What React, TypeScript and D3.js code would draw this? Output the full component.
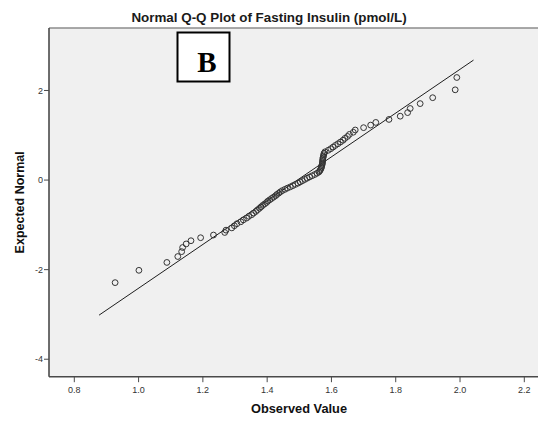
import React from "react";
import * as d3 from "d3";

// Observed fasting insulin values (sorted) and their expected normal scores
const observed: number[] = [
  0.927, 1.001, 1.088, 1.122, 1.134, 1.137, 1.148, 1.163, 1.193, 1.233,
  1.268, 1.272, 1.29, 1.298, 1.306, 1.318, 1.326, 1.336, 1.343, 1.352,
  1.358, 1.365, 1.37, 1.376, 1.381, 1.386, 1.392, 1.398, 1.402, 1.408,
  1.414, 1.42, 1.426, 1.43, 1.436, 1.441, 1.447, 1.455, 1.463, 1.472,
  1.48, 1.488, 1.496, 1.503, 1.51, 1.517, 1.524, 1.532, 1.54, 1.548,
  1.555, 1.561, 1.564, 1.566, 1.568, 1.569, 1.57, 1.571, 1.572, 1.572,
  1.573, 1.573, 1.574, 1.575, 1.576, 1.577, 1.58, 1.59, 1.598, 1.605,
  1.612, 1.62, 1.628, 1.636, 1.642, 1.65, 1.656, 1.668, 1.674, 1.7,
  1.722, 1.738, 1.779, 1.814, 1.837, 1.845, 1.876, 1.915, 1.985, 1.99,
];

const expectedNormal: number[] = [
  -2.29, -2.015, -1.839, -1.707, -1.598, -1.506, -1.426, -1.354, -1.287, -1.227,
  -1.17, -1.118, -1.068, -1.02, -0.974, -0.931, -0.889, -0.849, -0.81, -0.773,
  -0.736, -0.7, -0.665, -0.631, -0.598, -0.566, -0.534, -0.502, -0.471, -0.441,
  -0.41, -0.381, -0.351, -0.322, -0.293, -0.264, -0.236, -0.208, -0.18, -0.152,
  -0.124, -0.097, -0.069, -0.041, -0.014, 0.014, 0.041, 0.069, 0.097, 0.124,
  0.152, 0.18, 0.208, 0.236, 0.264, 0.293, 0.322, 0.351, 0.381, 0.41,
  0.441, 0.471, 0.502, 0.534, 0.566, 0.598, 0.631, 0.665, 0.7, 0.736,
  0.773, 0.81, 0.849, 0.889, 0.931, 0.974, 1.02, 1.068, 1.118, 1.17,
  1.227, 1.287, 1.354, 1.426, 1.506, 1.598, 1.707, 1.839, 2.015, 2.29,
];

// Reference line: z = (x - mean) / sd, drawn between these observed values
const refMean = 1.494;
const refSd = 0.2046;
const refLineX: number[] = [0.877, 2.042];

const xTicks: number[] = [0.8, 1.0, 1.2, 1.4, 1.6, 1.8, 2.0, 2.2];
const yTicks: number[] = [2, 0, -2, -4];

const W = 538;
const H = 421;
const plot = { left: 49, right: 538, top: 28, bottom: 376.7 };
const font = "'Liberation Sans', Arial, sans-serif";

export default function App() {
  const x = d3.scaleLinear().domain([0.7213, 2.2426]).range([plot.left, plot.right]);
  const y = d3.scaleLinear().domain([-4.39, 3.395]).range([plot.bottom, plot.top]);

  const refLine = d3
    .line<number>()
    .x((v) => x(v))
    .y((v) => y((v - refMean) / refSd));

  return (
    <svg
      width={W}
      height={H}
      style={{ position: "absolute", left: 0, top: 0, background: "#ffffff" }}
    >
      <rect
        x={plot.left}
        y={plot.top}
        width={plot.right - plot.left}
        height={plot.bottom - plot.top}
        fill="#f0f0f0"
      />
      {/* top frame */}
      <line x1={plot.left} x2={plot.right} y1={plot.top} y2={plot.top} stroke="#8c8c8c" strokeWidth={1.6} />

      {/* reference line */}
      <path d={refLine(refLineX) ?? ""} fill="none" stroke="#1e1e1e" strokeWidth={1} />

      {/* points */}
      {observed.map((v, i) => (
        <circle
          key={i}
          cx={x(v)}
          cy={y(expectedNormal[i])}
          r={2.9}
          fill="none"
          stroke="#333333"
          strokeWidth={1}
        />
      ))}

      {/* axes */}
      <line x1={plot.left} x2={plot.left} y1={plot.top} y2={plot.bottom} stroke="#4a4a4a" strokeWidth={1.6} />
      <line x1={plot.left} x2={plot.right} y1={plot.bottom} y2={plot.bottom} stroke="#4a4a4a" strokeWidth={1.6} />

      {yTicks.map((t) => (
        <g key={t}>
          <line x1={plot.left - 5} x2={plot.left} y1={y(t)} y2={y(t)} stroke="#4a4a4a" strokeWidth={1} />
          <text
            x={plot.left - 6}
            y={y(t)}
            dy="0.35em"
            textAnchor="end"
            fontFamily={font}
            fontSize={9}
            fill="#333"
          >
            {t}
          </text>
        </g>
      ))}

      {xTicks.map((t) => (
        <g key={t}>
          <line x1={x(t)} x2={x(t)} y1={plot.bottom} y2={plot.bottom + 5.5} stroke="#4a4a4a" strokeWidth={1} />
          <text
            x={x(t)}
            y={plot.bottom + 16.5}
            textAnchor="middle"
            fontFamily={font}
            fontSize={9}
            fill="#333"
          >
            {t.toFixed(1)}
          </text>
        </g>
      ))}

      {/* title */}
      <text x={269} y={21.5} textAnchor="middle" fontFamily={font} fontSize={13.4} fontWeight="bold" fill="#1a1a1a">
        Normal Q-Q Plot of Fasting Insulin (pmol/L)
      </text>

      {/* axis titles */}
      <text x={299} y={413} textAnchor="middle" fontFamily={font} fontSize={12.8} fontWeight="bold" fill="#111">
        Observed Value
      </text>
      <text
        transform={`translate(24, ${(plot.top + plot.bottom) / 2}) rotate(-90)`}
        textAnchor="middle"
        fontFamily={font}
        fontSize={12.5}
        fontWeight="bold"
        fill="#111"
      >
        Expected Normal
      </text>

      {/* panel label */}
      <rect x={177.5} y={32.5} width={52} height={49} fill="#ffffff" stroke="#000" strokeWidth={2} />
      <text
        x={207}
        y={71.5}
        textAnchor="middle"
        fontFamily="'Liberation Serif', 'Times New Roman', serif"
        fontSize={29}
        fontWeight="bold"
        fill="#000"
      >
        B
      </text>
    </svg>
  );
}
